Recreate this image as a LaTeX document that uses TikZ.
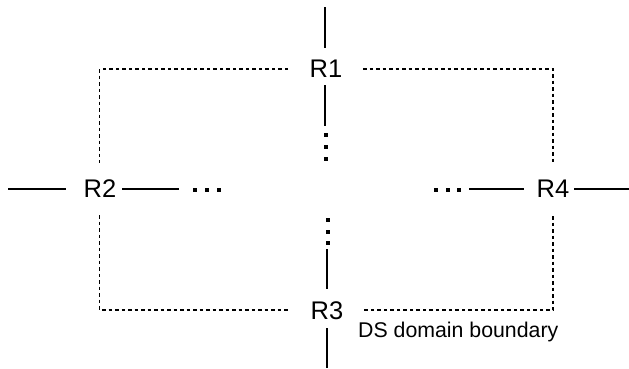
\documentclass[tikz,border=0pt]{standalone}
\usepackage{fontspec}
\setmainfont{Liberation Sans}
\begin{document}
\begin{tikzpicture}[x=1pt,y=-1pt,
  router/.style={inner sep=0pt,font=\fontsize{25.5}{25.5}\selectfont},
  lbl/.style={inner sep=0pt,font=\fontsize{21.3}{21.3}\selectfont},
  link/.style={line width=1.6pt},
  bnd/.style={line width=1.7pt,dash pattern=on 3.5pt off 3pt},
  sqdot/.style={fill=black,inner sep=0pt,minimum size=4pt}]
\useasboundingbox (0,0) rectangle (629,368);
% routers
\node[router] (R1) at (326,69) {R1};
\node[router] (R2) at (100,189) {R2};
\node[router] (R3) at (327,311) {R3};
\node[router] (R4) at (553,189) {R4};
% free ends
\coordinate (t1) at (325,7);
\coordinate (t1a) at (325,48);
\coordinate (b1a) at (325,85);
\coordinate (b1b) at (325,126);
\coordinate (l2a) at (8,189);
\coordinate (l2b) at (66,189);
\coordinate (r2a) at (122,189);
\coordinate (r2b) at (179,189);
\coordinate (l4a) at (469,189);
\coordinate (l4b) at (524,189);
\coordinate (r4a) at (574,189);
\coordinate (r4b) at (629,189);
\coordinate (t3a) at (327,249);
\coordinate (t3b) at (327,289);
\coordinate (b3a) at (327,328);
\coordinate (b3b) at (327,368);
% solid links
\draw[link] (t1) -- (t1a);
\draw[link] (b1a) -- (b1b);
\draw[link] (l2a) -- (l2b);
\draw[link] (r2a) -- (r2b);
\draw[link] (l4a) -- (l4b);
\draw[link] (r4a) -- (r4b);
\draw[link] (t3a) -- (t3b);
\draw[link] (b3a) -- (b3b);
% ellipsis dots
\node[sqdot] (v1a) at (326,135) {};
\node[sqdot] (v1b) at (326,147) {};
\node[sqdot] (v1c) at (326,159) {};
\node[sqdot] (v3a) at (328,220) {};
\node[sqdot] (v3b) at (328,232) {};
\node[sqdot] (v3c) at (328,243) {};
\node[sqdot] (h2a) at (195,190) {};
\node[sqdot] (h2b) at (207,190) {};
\node[sqdot] (h2c) at (219,190) {};
\node[sqdot] (h4a) at (436,190) {};
\node[sqdot] (h4b) at (448,190) {};
\node[sqdot] (h4c) at (459,190) {};
% DS domain boundary
\coordinate (tl) at (99.5,69);
\coordinate (tr) at (553,69);
\coordinate (bl) at (99.5,310);
\coordinate (br) at (553,310);
\coordinate (ta) at (288,69);
\coordinate (tb) at (363,69);
\coordinate (ba) at (288,310);
\coordinate (bb) at (363,310);
\coordinate (la) at (99.5,163);
\coordinate (lb) at (99.5,215);
\coordinate (ra) at (553,163);
\coordinate (rb) at (553,216);
\draw[bnd] (ta) -- (tl) -- (la);
\draw[bnd] (tb) -- (tr) -- (ra);
\draw[bnd] (lb) -- (bl) -- (ba);
\draw[bnd] (rb) -- (br) -- (bb);
\node[lbl,anchor=base west] (ds) at (358,337) {DS domain boundary};
\end{tikzpicture}
\end{document}
